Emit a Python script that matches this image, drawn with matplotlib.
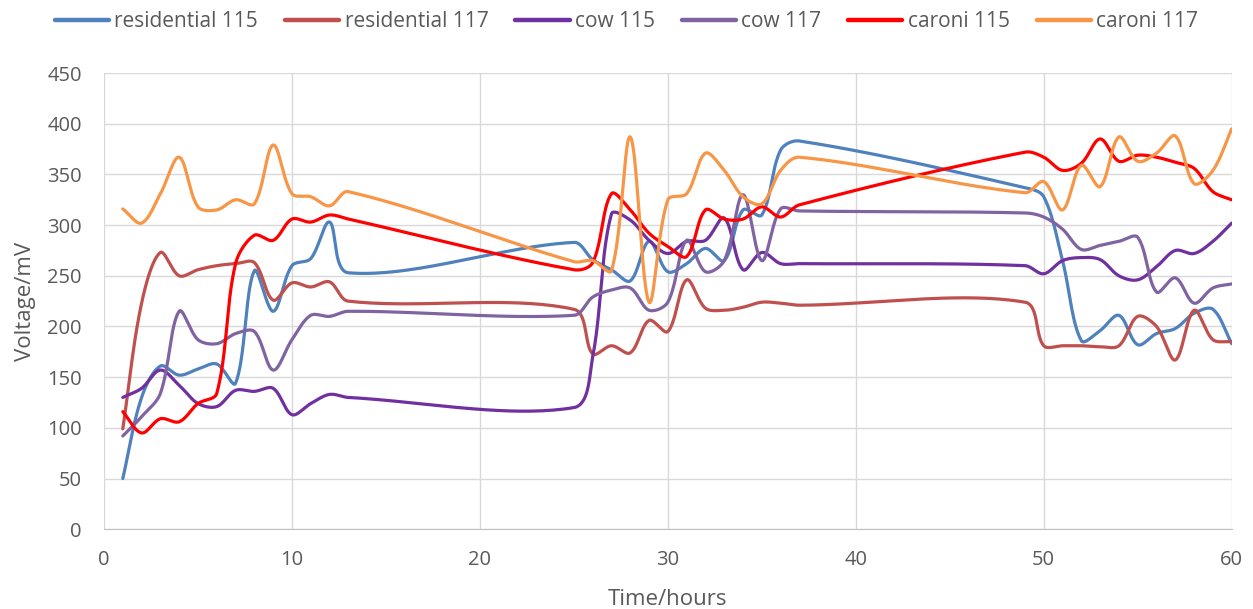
import numpy as np
import matplotlib
matplotlib.use("Agg")
import matplotlib.pyplot as plt

plt.rcParams['font.family'] = ['Open Sans', 'DejaVu Sans']
plt.rcParams['font.size'] = 14.5

# time points (hours) - three daily measurement blocks
hours = list(range(1, 14)) + list(range(25, 38)) + list(range(49, 61))

residential_115 = [50, 130, 161, 152, 158, 163, 144, 255, 215, 260, 267, 303, 253,
                   283, 266, 256, 245, 284, 254, 262, 277, 265, 315, 310, 374, 383,
                   337, 328, 265, 186, 196, 211, 182, 193, 198, 213, 217, 183]
residential_117 = [99, 223, 273, 250, 256, 260, 262, 263, 226, 243, 239, 244, 225,
                   217, 173, 181, 174, 206, 195, 246, 218, 216, 219, 224, 223, 221,
                   224, 181, 181, 181, 180, 181, 210, 200, 167, 216, 187, 185]
cow_115 = [130, 139, 157, 142, 124, 121, 137, 136, 139, 113, 124, 133, 130,
           120, 170, 311, 305, 285, 272, 284, 285, 307, 256, 273, 262, 262,
           260, 252, 265, 268, 266, 250, 246, 259, 275, 272, 284, 302]
cow_117 = [92, 111, 134, 215, 187, 183, 193, 195, 157, 187, 211, 210, 215,
           211, 229, 236, 238, 216, 224, 285, 254, 265, 330, 265, 316, 314,
           312, 308, 296, 276, 280, 284, 288, 234, 248, 223, 238, 242]
caroni_115 = [116, 95, 109, 106, 124, 134, 262, 290, 285, 306, 303, 310, 306,
              256, 263, 331, 315, 292, 279, 269, 315, 306, 306, 318, 308, 320,
              372, 367, 354, 361, 385, 363, 369, 367, 362, 356, 333, 325]
caroni_117 = [316, 302, 331, 367, 318, 315, 325, 321, 379, 331, 328, 319, 333,
              264, 265, 255, 387, 224, 325, 331, 371, 354, 328, 321, 354, 367,
              332, 343, 315, 359, 338, 387, 363, 371, 388, 341, 354, 395]

series = [
    ("residential 115", residential_115, "#4F81BD"),
    ("residential 117", residential_117, "#C0504D"),
    ("cow 115", cow_115, "#7030A0"),
    ("cow 117", cow_117, "#8064A2"),
    ("caroni 115", caroni_115, "#FF0000"),
    ("caroni 117", caroni_117, "#F79646"),
]

# pixel per unit on screen (x: hours, y: mV), used to weigh segment lengths
SX, SY = 18.8, 1.0133


def excel_smooth(xs, ys, steps=40):
    """smoothed line like Excel: cubic bezier, tangents weighted by segment length"""
    p = np.column_stack([np.asarray(xs) * SX, np.asarray(ys) * SY]).astype(float)
    pe = np.vstack([p[0], p, p[-1]])
    t = np.linspace(0, 1, steps)[:, None]
    out = []
    for i in range(len(p) - 1):
        p0, p1, p2, p3 = pe[i], pe[i + 1], pe[i + 2], pe[i + 3]
        d01 = np.linalg.norm(p1 - p0)
        d12 = np.linalg.norm(p2 - p1)
        d23 = np.linalg.norm(p3 - p2)
        f1 = d12 / (d01 + d12) / 3 if d01 + d12 > 0 else 0
        f2 = d12 / (d12 + d23) / 3 if d12 + d23 > 0 else 0
        c1 = p1 + (p2 - p0) * f1
        c2 = p2 - (p3 - p1) * f2
        seg = (1 - t) ** 3 * p1 + 3 * (1 - t) ** 2 * t * c1 + 3 * (1 - t) * t ** 2 * c2 + t ** 3 * p2
        out.append(seg if i == 0 else seg[1:])
    out = np.vstack(out)
    return out[:, 0] / SX, out[:, 1] / SY


fig = plt.figure(figsize=(12.53, 6.09), dpi=100)
ax = fig.add_axes([0.083, 0.131, 0.900, 0.749])

for name, vals, col in series:
    sx, sy = excel_smooth(hours, vals)
    ax.plot(sx, sy, color=col, linewidth=2.3, label=name, solid_capstyle='round')

ax.set_xlim(0, 60)
ax.set_ylim(0, 450)
ax.set_xticks(range(0, 61, 10))
ax.set_yticks(range(0, 451, 50))
ax.grid(True, color='#D9D9D9', linewidth=1.0)
ax.set_axisbelow(True)
for s in ['top', 'right', 'left']:
    ax.spines[s].set_visible(False)
ax.spines['bottom'].set_color('#BFBFBF')
ax.tick_params(length=0, colors='#595959', labelsize=14.5)
ax.tick_params(axis='x', pad=15)
ax.tick_params(axis='y', pad=16)

ax.set_xlabel("Time/hours", color='#595959', fontsize=16, labelpad=14)
ax.set_ylabel("Voltage/mV", color='#595959', fontsize=16, labelpad=8)

leg = fig.legend(loc='center', bbox_to_anchor=(0.5, 0.965), ncol=6, frameon=False,
                 handlelength=2.6, handletextpad=0.25, columnspacing=1.3, fontsize=15)
for txt in leg.get_texts():
    txt.set_color('#595959')
for ln in leg.get_lines():
    ln.set_linewidth(3.2)

plt.savefig('out.png', dpi=100)
